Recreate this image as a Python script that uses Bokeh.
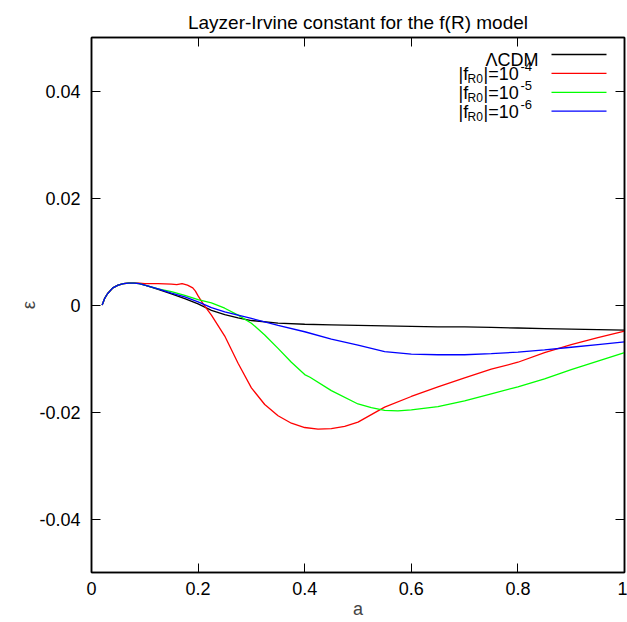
from bokeh.plotting import figure
from bokeh.models import Range1d, FixedTicker, LinearAxis, Label, Arrow
from bokeh.embed import file_html
from bokeh.resources import INLINE

title_text = "Layzer-Irvine constant for the f(R) model"
x_label = "a"
y_label = "ε"
x_ticks = [0, 0.2, 0.4, 0.6, 0.8, 1]
x_tick_labels = ["0", "0.2", "0.4", "0.6", "0.8", "1"]
y_ticks = [-0.04, -0.02, 0, 0.02, 0.04]
y_tick_labels = ["-0.04", "-0.02", "0", "0.02", "0.04"]

series_names = ["ΛCDM", "-4", "-5", "-6"]
series_colors = ["#000000", "#ff0000", "#00ff00", "#0000ff"]

a_lcdm = [0.02, 0.025, 0.03, 0.04, 0.05, 0.06, 0.07, 0.08, 0.09, 0.10, 0.125, 0.15, 0.175,
          0.2, 0.225, 0.25, 0.275, 0.3, 0.35, 0.4, 0.45, 0.5, 0.55, 0.6, 0.65, 0.7, 0.75,
          0.8, 0.85, 0.9, 0.95, 1.0]
eps_lcdm = [0.0, 0.0013, 0.0021, 0.0032, 0.0037, 0.0040, 0.0041, 0.0041, 0.0040, 0.0037, 0.0029,
            0.0021, 0.0012, 0.0002, -0.0010, -0.0018, -0.0024, -0.0029, -0.0034, -0.0036,
            -0.0037, -0.0038, -0.0039, -0.0040, -0.0041, -0.0041, -0.0042, -0.0043, -0.0044,
            -0.0045, -0.0046, -0.0047]

a_f4 = [0.02, 0.025, 0.03, 0.04, 0.05, 0.06, 0.07, 0.08, 0.09, 0.10, 0.125, 0.15, 0.16, 0.17,
        0.18, 0.19, 0.195, 0.2, 0.21, 0.225, 0.25, 0.275, 0.3, 0.325, 0.35, 0.375, 0.4, 0.425,
        0.45, 0.475, 0.5, 0.525, 0.55, 0.6, 0.65, 0.7, 0.75, 0.8, 0.85, 0.9, 0.95, 1.0]
eps_f4 = [0.0, 0.0013, 0.0021, 0.0032, 0.0037, 0.0040, 0.0041, 0.0041, 0.0041, 0.0040, 0.0040,
          0.0039, 0.0038, 0.0040, 0.0037, 0.0032, 0.0026, 0.0017, 0.0001, -0.0019, -0.0058,
          -0.0109, -0.0155, -0.0186, -0.0207, -0.0221, -0.0229, -0.0232, -0.0231, -0.0227,
          -0.0219, -0.0205, -0.0191, -0.0171, -0.0153, -0.0136, -0.0120, -0.0107, -0.0089,
          -0.0074, -0.0061, -0.0049]

a_f5 = [0.02, 0.025, 0.03, 0.04, 0.05, 0.06, 0.07, 0.08, 0.09, 0.10, 0.125, 0.15, 0.175, 0.2,
        0.225, 0.25, 0.275, 0.3, 0.325, 0.35, 0.375, 0.4, 0.41, 0.45, 0.5, 0.525, 0.55, 0.575,
        0.6, 0.65, 0.7, 0.75, 0.8, 0.85, 0.9, 0.95, 1.0]
eps_f5 = [0.0, 0.0013, 0.0021, 0.0032, 0.0037, 0.0040, 0.0041, 0.0041, 0.0040, 0.0037, 0.0030,
          0.0025, 0.0018, 0.0010, 0.0004, -0.0006, -0.0019, -0.0034, -0.0056, -0.0081, -0.0107,
          -0.0130, -0.0135, -0.0160, -0.0185, -0.0192, -0.0197, -0.0198, -0.0196, -0.0190,
          -0.0179, -0.0166, -0.0153, -0.0138, -0.0121, -0.0105, -0.0089]

a_f6 = [0.02, 0.025, 0.03, 0.04, 0.05, 0.06, 0.07, 0.08, 0.09, 0.10, 0.125, 0.15, 0.175, 0.2,
        0.225, 0.25, 0.275, 0.3, 0.35, 0.4, 0.45, 0.5, 0.55, 0.6, 0.65, 0.7, 0.75, 0.8, 0.85,
        0.9, 0.95, 1.0]
eps_f6 = [0.0, 0.0013, 0.0021, 0.0032, 0.0037, 0.0040, 0.0041, 0.0041, 0.0040, 0.0037, 0.0030,
          0.0022, 0.0015, 0.0006, -0.0005, -0.0013, -0.0019, -0.0025, -0.0038, -0.0050, -0.0064,
          -0.0075, -0.0087, -0.0092, -0.0093, -0.0093, -0.0091, -0.0088, -0.0084, -0.0079,
          -0.0074, -0.0069]

FONT = "Liberation Sans"

p = figure(width=627, height=622, output_backend="svg", toolbar_location=None,
           x_range=Range1d(0, 1), y_range=Range1d(-0.05, 0.05),
           min_border_left=91, min_border_right=3, min_border_top=37, min_border_bottom=50)
p.xgrid.visible = False
p.ygrid.visible = False
p.outline_line_color = "black"
p.outline_line_width = 1.5
p.background_fill_color = "white"
p.border_fill_color = "white"

p.title.text = title_text
p.title.align = "center"
p.title.text_font = FONT
p.title.text_font_size = "19px"
p.title.text_font_style = "normal"
p.title.text_color = "#000000"

xt = FixedTicker(ticks=x_ticks, minor_ticks=[])
yt = FixedTicker(ticks=y_ticks, minor_ticks=[])

def style_axis(ax, show_labels, standoff=10):
    ax.major_tick_in = 9
    ax.major_tick_out = 0
    ax.minor_tick_in = 0
    ax.minor_tick_out = 0
    ax.axis_line_width = 1.5
    ax.major_tick_line_width = 1
    ax.major_label_text_font = FONT
    ax.major_label_text_color = "#000000"
    if show_labels:
        ax.major_label_text_font_size = "18px"
        ax.major_label_standoff = standoff
    else:
        ax.major_label_text_font_size = "1px"
        ax.major_label_text_alpha = 0
        ax.major_label_standoff = 0

xa = p.xaxis[0]
xa.ticker = xt
xa.major_label_overrides = {t: s for t, s in zip(x_ticks, x_tick_labels)}
style_axis(xa, True, 9)
xa.axis_label = x_label
xa.axis_label_text_font = FONT
xa.axis_label_text_font_size = "18px"
xa.axis_label_text_font_style = "normal"
xa.axis_label_standoff = 1

ya = p.yaxis[0]
ya.ticker = yt
ya.major_label_overrides = {t: s for t, s in zip(y_ticks, y_tick_labels)}
style_axis(ya, True, 11)
ya.axis_label = y_label
ya.axis_label_text_font = FONT
ya.axis_label_text_font_size = "19px"
ya.axis_label_text_font_style = "normal"
ya.axis_label_standoff = -3

top = LinearAxis(ticker=xt)
style_axis(top, False)
p.add_layout(top, "above")
right = LinearAxis(ticker=yt)
style_axis(right, False)
p.add_layout(right, "right")

xs = [a_lcdm, a_f4, a_f5, a_f6]
ys = [eps_lcdm, eps_f4, eps_f5, eps_f6]
for xv, yv, c in zip(xs, ys, series_colors):
    p.line(xv, yv, line_color=c, line_width=1.3)

# gnuplot-style key: text on the left, sample line on the right
FL = 572  # page y of frame bottom
FX = 91   # page x of frame left
for k, c in enumerate(series_colors):
    ly = 54 + 18.9 * k
    p.add_layout(Arrow(x_start=551 - FX, y_start=FL - ly, x_end=606 - FX, y_end=FL - ly,
                       start_units="screen", end_units="screen", start=None, end=None,
                       line_color=c, line_width=1.3))

p.add_layout(Label(x=538 - FX, y=FL - 59, x_units="screen", y_units="screen",
                   text=series_names[0], text_align="right", text_baseline="alphabetic",
                   text_font=FONT, text_font_size="18px", text_color="#000000"))
for k, sup in enumerate(series_names[1:]):
    base = 54 + 18.9 * (k + 1) + 1
    p.add_layout(Label(x=458 - FX, y=FL - base, x_units="screen", y_units="screen",
                       text="|f", text_align="left", text_baseline="alphabetic",
                       text_font=FONT, text_font_size="18px", text_color="#000000"))
    p.add_layout(Label(x=467 - FX, y=FL - base - 5, x_units="screen", y_units="screen",
                       text="R0", text_align="left", text_baseline="alphabetic",
                       text_font=FONT, text_font_size="12px", text_color="#000000"))
    p.add_layout(Label(x=483 - FX, y=FL - base, x_units="screen", y_units="screen",
                       text="|=10", text_align="left", text_baseline="alphabetic",
                       text_font=FONT, text_font_size="18px", text_color="#000000"))
    p.add_layout(Label(x=520 - FX, y=FL - base + 8, x_units="screen", y_units="screen",
                       text=sup, text_align="left", text_baseline="alphabetic",
                       text_font=FONT, text_font_size="13px", text_color="#000000"))

open("out.html", "w").write(file_html(p, INLINE))
